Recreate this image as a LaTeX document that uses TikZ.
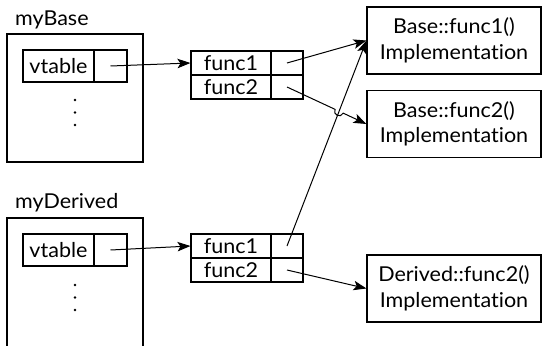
\documentclass[tikz,border=0pt]{standalone}
\usepackage{fontspec}
\setmainfont[FakeStretch=1.05,Ligatures=NoCommon]{Lato}
\usetikzlibrary{arrows.meta,calc}
\begin{document}
\begin{tikzpicture}[x=1bp,y=1bp,
  every node/.style={font=\fontsize{20.5bp}{25.5bp}\selectfont},
  box/.style={draw, line width=1.1bp, inner sep=0pt},
  cell/.style={box, minimum height=24bp},
  impl/.style={box, minimum width=174bp, minimum height=67bp, align=center},
  ptr/.style={-{Stealth[length=13bp,width=9.5bp,inset=3bp]}, line width=1bp},
  lbl/.style={anchor=base west, inner sep=0pt}]
\useasboundingbox (0,0) rectangle (542,345);
\clip (0,0) rectangle (542,345);
% myBase object
\node[lbl] (lb) at (15,320) {myBase};
\node[box, minimum width=136bp, minimum height=128bp] (ob) at (75,247) {};
\node[cell, minimum width=71bp, minimum height=32bp] (vb) at (58.5,279) {vtable};
\node[cell, minimum width=33bp, minimum height=32bp] (vbp) at (110.5,279) {};
\fill (75,245) circle (1.3bp) (75,232.5) circle (1.3bp) (75,220) circle (1.3bp);
% base vtable
\node[cell, minimum width=80bp] (bf1) at (231,282) {func1};
\node[cell, minimum width=32bp] (bf1p) at (287,282) {};
\node[cell, minimum width=80bp] (bf2) at (231,258) {func2};
\node[cell, minimum width=32bp] (bf2p) at (287,258) {};
% implementations
\node[impl] (i1) at (454,304.5) {Base::func1()\\Implementation};
\node[impl] (i2) at (454,221) {Base::func2()\\Implementation};
\node[impl] (i3) at (454,56.5) {Derived::func2()\\Implementation};
% myDerived object
\node[lbl] (ld) at (15,137) {myDerived};
\node[box, minimum width=136bp, minimum height=137bp] (od) at (75,58.5) {};
\node[cell, minimum width=71bp, minimum height=32bp] (vd) at (58.5,95) {vtable};
\node[cell, minimum width=33bp, minimum height=32bp] (vdp) at (110.5,95) {};
\fill (75,60) circle (1.3bp) (75,47.5) circle (1.3bp) (75,35) circle (1.3bp);
% derived vtable
\node[cell, minimum width=80bp] (df1) at (231,99) {func1};
\node[cell, minimum width=32bp] (df1p) at (287,99) {};
\node[cell, minimum width=80bp] (df2) at (231,75) {func2};
\node[cell, minimum width=32bp] (df2p) at (287,75) {};
% connectors
\draw[ptr] (vbp.center) -- (bf1.west);
\draw[ptr] (vdp.center) -- (df1.west);
\draw[ptr] (bf1p.center) -- (i1.west);
\draw[ptr] (df1p.center) -- (i1.west);
\draw[ptr] (df2p.center) -- (i3.west);
\coordinate (X) at (intersection of bf2p.center--i2.west and df1p.center--i1.west);
\coordinate (P1) at ($(X)!4.5bp!(bf2p.center)$);
\coordinate (P2) at ($(X)!4.5bp!(i2.west)$);
\draw[ptr] (bf2p.center) -- (P1)
  .. controls ($(P1)!6bp!-90:(X)$) and ($(P2)!6bp!90:(X)$) .. (P2) -- (i2.west);
\end{tikzpicture}
\end{document}
